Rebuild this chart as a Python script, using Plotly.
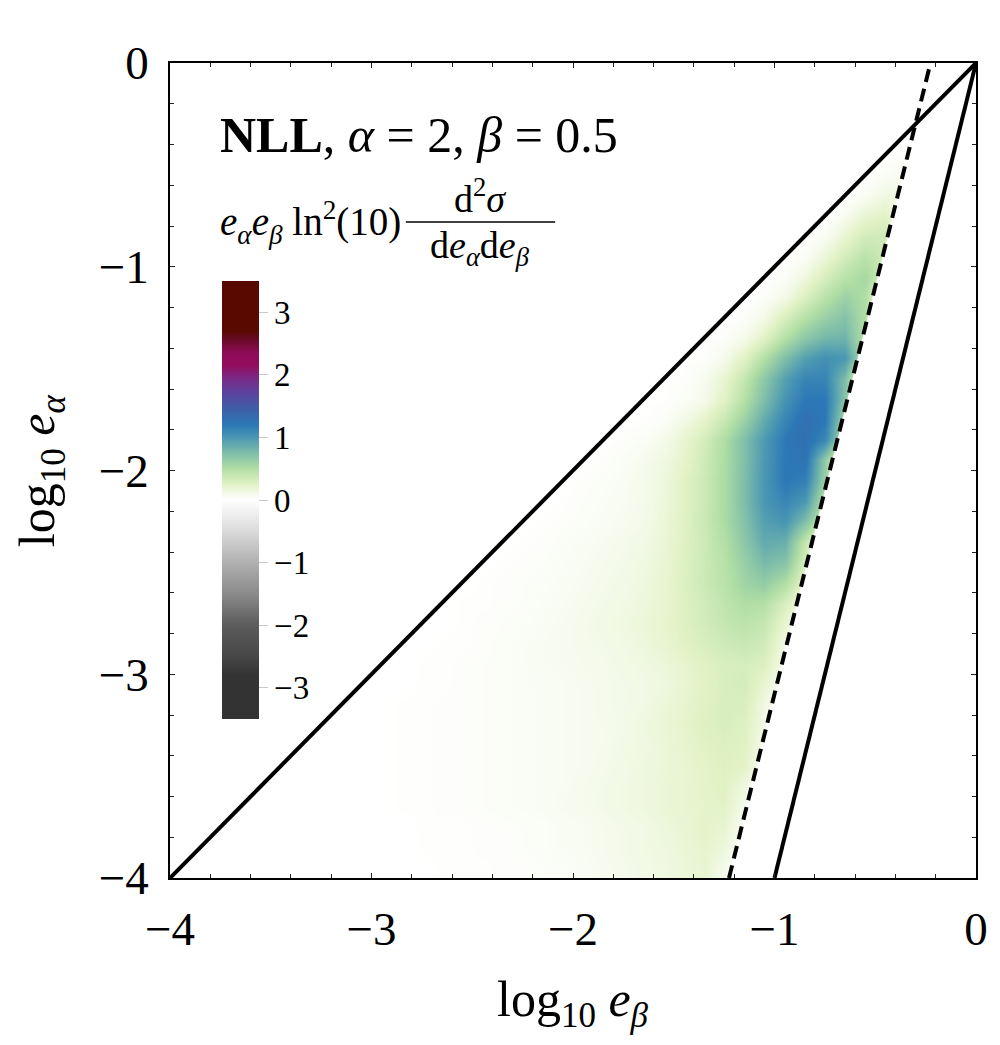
import numpy as np
import plotly.graph_objects as go

# cell centres, step 0.1 in log10 e_beta (x) and log10 e_alpha (y)
x_centres = np.round(np.arange(-3.95, 0, 0.1), 2)
y_centres = np.round(np.arange(-3.95, 0, 0.1), 2)

# one row per y centre (bottom to top); each row starts at the cell on the diagonal
# and runs to the dashed line; everything else is zero
dens_rows = [
    [0, 0, 0, 0, 0, 0, 0, 0, 0, 0, 0, 0, 0.0, 0.01, 0.01, 0.01, 0.02, 0.02, 0.03, 0.04, 0.06, 0.08, 0.1, 0.12, 0.14, 0.17, 0.2, 0.1],
    [0, 0, 0, 0, 0, 0, 0, 0, 0, 0, 0, 0.01, 0.01, 0.01, 0.02, 0.02, 0.03, 0.04, 0.06, 0.07, 0.09, 0.11, 0.13, 0.15, 0.18, 0.22, 0.16, 0.04],
    [0, 0, 0, 0, 0, 0, 0, 0, 0, 0, 0.01, 0.01, 0.01, 0.02, 0.02, 0.03, 0.04, 0.06, 0.07, 0.09, 0.11, 0.13, 0.16, 0.19, 0.23, 0.2, 0.06],
    [0, 0, 0, 0, 0, 0, 0, 0, 0.01, 0.01, 0.02, 0.02, 0.03, 0.04, 0.05, 0.06, 0.08, 0.09, 0.11, 0.13, 0.15, 0.18, 0.2, 0.22, 0.24, 0.1],
    [0, 0, 0, 0, 0, 0, 0, 0.01, 0.01, 0.02, 0.02, 0.03, 0.04, 0.05, 0.06, 0.07, 0.09, 0.11, 0.13, 0.15, 0.18, 0.2, 0.23, 0.26, 0.15],
    [0, 0, 0, 0, 0, 0, 0.01, 0.01, 0.02, 0.02, 0.03, 0.04, 0.05, 0.06, 0.07, 0.08, 0.1, 0.12, 0.15, 0.17, 0.2, 0.23, 0.27, 0.24, 0.07],
    [0, 0, 0, 0, 0, 0.01, 0.01, 0.02, 0.02, 0.03, 0.04, 0.05, 0.06, 0.07, 0.08, 0.09, 0.12, 0.14, 0.17, 0.21, 0.25, 0.28, 0.26, 0.1],
    [0, 0, 0, 0, 0.01, 0.01, 0.02, 0.02, 0.03, 0.04, 0.05, 0.06, 0.07, 0.08, 0.09, 0.11, 0.15, 0.18, 0.22, 0.27, 0.3, 0.27, 0.12],
    [0, 0, 0, 0.01, 0.01, 0.02, 0.02, 0.03, 0.04, 0.05, 0.06, 0.07, 0.08, 0.1, 0.11, 0.13, 0.17, 0.21, 0.26, 0.3, 0.3, 0.14],
    [0, 0, 0, 0.01, 0.01, 0.02, 0.03, 0.04, 0.05, 0.06, 0.07, 0.08, 0.1, 0.11, 0.13, 0.15, 0.2, 0.25, 0.3, 0.32, 0.2, 0.06],
    [0, 0, 0.01, 0.01, 0.02, 0.03, 0.04, 0.05, 0.07, 0.08, 0.09, 0.1, 0.12, 0.14, 0.17, 0.21, 0.26, 0.3, 0.31, 0.28, 0.1],
    [0, 0, 0.01, 0.01, 0.02, 0.04, 0.05, 0.07, 0.08, 0.1, 0.11, 0.13, 0.16, 0.2, 0.25, 0.3, 0.35, 0.38, 0.34, 0.12],
    [0, 0, 0.01, 0.02, 0.03, 0.04, 0.06, 0.08, 0.1, 0.12, 0.14, 0.17, 0.21, 0.27, 0.33, 0.4, 0.44, 0.4, 0.2],
    [0, 0.01, 0.01, 0.02, 0.03, 0.05, 0.07, 0.09, 0.11, 0.13, 0.16, 0.2, 0.27, 0.34, 0.42, 0.5, 0.48, 0.3, 0.1],
    [0, 0.01, 0.02, 0.03, 0.04, 0.06, 0.08, 0.1, 0.12, 0.15, 0.2, 0.28, 0.36, 0.45, 0.58, 0.65, 0.5, 0.2],
    [0, 0.01, 0.02, 0.03, 0.05, 0.07, 0.09, 0.11, 0.14, 0.19, 0.27, 0.36, 0.46, 0.62, 0.78, 0.72, 0.3],
    [0, 0.01, 0.02, 0.04, 0.06, 0.08, 0.1, 0.13, 0.18, 0.26, 0.36, 0.48, 0.68, 0.88, 0.85, 0.4],
    [0, 0.01, 0.02, 0.04, 0.06, 0.08, 0.11, 0.17, 0.26, 0.37, 0.52, 0.72, 0.95, 1.02, 0.75, 0.35],
    [0, 0.01, 0.03, 0.05, 0.07, 0.1, 0.16, 0.25, 0.36, 0.52, 0.75, 1.0, 1.12, 1.0, 0.45],
    [0, 0.02, 0.04, 0.06, 0.1, 0.16, 0.25, 0.36, 0.52, 0.75, 1.0, 1.2, 1.15, 0.6],
    [0, 0.02, 0.05, 0.09, 0.14, 0.22, 0.34, 0.51, 0.74, 0.99, 1.2, 1.25, 0.65],
    [0, 0.02, 0.05, 0.1, 0.2, 0.32, 0.5, 0.74, 0.98, 1.2, 1.28, 1.1, 0.45],
    [0, 0.01, 0.04, 0.12, 0.22, 0.38, 0.6, 0.88, 1.12, 1.28, 1.2, 0.55],
    [0, 0.01, 0.04, 0.1, 0.25, 0.47, 0.75, 1.02, 1.2, 1.2, 0.7],
    [0, 0.02, 0.08, 0.2, 0.4, 0.68, 0.95, 1.12, 1.12, 0.75],
    [0, 0.02, 0.1, 0.25, 0.48, 0.75, 0.95, 1.05, 1.0, 0.45],
    [0, 0.03, 0.1, 0.25, 0.48, 0.68, 0.8, 0.82, 0.45],
    [0, 0.03, 0.12, 0.3, 0.48, 0.62, 0.72, 0.5],
    [0, 0.03, 0.12, 0.28, 0.45, 0.6, 0.5],
    [0, 0.04, 0.15, 0.3, 0.45, 0.55, 0.3],
    [0, 0.05, 0.18, 0.33, 0.45, 0.35],
    [0, 0.06, 0.2, 0.33, 0.35],
    [0, 0.08, 0.2, 0.25],
    [0, 0.05, 0.14, 0.12],
    [0, 0.05, 0.08],
    [0, 0.02],
]

# boundary lines y = m*x + b
line_slope = [1, 4, 4]
line_icpt = [0, 0, 0.903]
line_dash = ["solid", "solid", "dash"]

cbar_ticks = [-3, -2, -1, 0, 1, 2, 3]
zmin, zmax = -3.5, 3.5

cscale = [
    [0.0, "#333333"], [0.1, "#333333"], [0.1429, "#474747"], [0.2143, "#5c5c5c"],
    [0.2857, "#8a8a8a"], [0.3571, "#b0b0b0"], [0.4286, "#dadada"], [0.5, "#ffffff"],
    [0.5143, "#f5faeb"], [0.5357, "#e2f2c5"], [0.5714, "#b0dea4"], [0.6071, "#7fbea9"],
    [0.6429, "#4a97b3"], [0.6714, "#2c78b6"], [0.7071, "#3f5fa8"], [0.7429, "#5a43a0"],
    [0.7786, "#7a2a84"], [0.8071, "#930c5e"], [0.8357, "#8e0c58"], [0.8643, "#6a0a2a"],
    [0.8857, "#580a00"], [1.0, "#580a00"],
]

z = np.zeros((len(y_centres), len(x_centres)))
for i, r in enumerate(dens_rows):
    z[i, i:i + len(r)] = r

FONT = "Liberation Serif"

fig = go.Figure()
fig.add_trace(go.Heatmap(
    x=x_centres, y=y_centres, z=z, zmin=zmin, zmax=zmax, colorscale=cscale,
    zsmooth="best",
    colorbar=dict(
        x=0.0642, xanchor="left", xref="paper", xpad=0, y=0.4638, yanchor="middle",
        ypad=0, thickness=37, len=0.5374, lenmode="fraction", outlinewidth=0,
        tickvals=cbar_ticks, ticks="outside", ticklen=9, tickcolor="#c8c8c8",
        tickfont=dict(family=FONT, size=33, color="black"),
    ),
))

# white out the area past the dashed line
m, b = line_slope[2], line_icpt[2]
fig.add_trace(go.Scatter(
    x=[(-4 - b) / m, (0 - b) / m, 0, 0], y=[-4, 0, 0, -4], fill="toself",
    fillcolor="white", line=dict(width=0), mode="lines", hoverinfo="skip",
    showlegend=False,
))

for m, b, d in zip(line_slope, line_icpt, line_dash):
    fig.add_trace(go.Scatter(
        x=[(-4 - b) / m, (0 - b) / m], y=[-4, 0], mode="lines",
        line=dict(color="black", width=4, dash="13px,7px" if d == "dash" else "solid"),
        hoverinfo="skip", showlegend=False, cliponaxis=True,
    ))

axis_common = dict(
    range=[-4, 0], dtick=1, tick0=0, ticks="inside", ticklen=5, tickwidth=1.3,
    tickcolor="#222222", showline=True, linecolor="black", linewidth=1.5,
    mirror="allticks", showgrid=False, zeroline=False,
    tickfont=dict(family=FONT, size=47, color="black"),
    minor=dict(ticks="inside", dtick=0.2, ticklen=4, tickwidth=1, tickcolor="#222222"),
)

fig.update_layout(
    # page body adds 8px, so the figure is 8px smaller than the window
    width=992, height=1037,
    margin=dict(l=162, r=20, t=55, b=167),
    paper_bgcolor="white", plot_bgcolor="white",
    xaxis=dict(axis_common, ticklabelstandoff=8, linewidth=2.2),
    yaxis=dict(axis_common, ticklabelstandoff=10),
    showlegend=False,
    annotations=[
        dict(text="<b>NLL</b>, <i>α</i> = 2, <i>β</i> = 0.5", xref="paper", yref="paper",
             x=0.059, y=0.912, xanchor="left", yanchor="middle", showarrow=False,
             font=dict(family=FONT, size=50, color="black")),
        dict(text="<i>e</i><sub><i>α</i></sub><i>e</i><sub><i>β</i></sub> ln<sup>2</sup>(10)",
             xref="paper", yref="paper", x=0.059, y=0.8049, xanchor="left",
             yanchor="middle", showarrow=False, font=dict(family=FONT, size=39, color="black")),
        dict(text="d<sup>2</sup><i>σ</i>", xref="paper", yref="paper", x=0.385, y=0.8049,
             xanchor="center", yanchor="bottom", showarrow=False,
             font=dict(family=FONT, size=38, color="black")),
        dict(text="d<i>e</i><sub><i>α</i></sub>d<i>e</i><sub><i>β</i></sub>", xref="paper",
             yref="paper", x=0.385, y=0.8049, xanchor="center", yanchor="top",
             showarrow=False, font=dict(family=FONT, size=38, color="black")),
        dict(text="log<sub>10</sub> <i>e</i><sub><i>β</i></sub>", xref="paper", yref="paper",
             x=0.5, y=-0.1534, xanchor="center", yanchor="middle", showarrow=False,
             font=dict(family=FONT, size=50, color="black")),
        dict(text="log<sub>10</sub> <i>e</i><sub><i>α</i></sub>", xref="paper", yref="paper",
             x=-0.1605, y=0.5, xanchor="center", yanchor="middle", showarrow=False,
             textangle=-90, font=dict(family=FONT, size=50, color="black")),
    ],
    shapes=[
        dict(type="line", xref="paper", yref="paper", x0=0.2926, x1=0.4778,
             y0=0.8049, y1=0.8049, line=dict(color="black", width=1.5)),
    ],
)

fig.write_html("out.html")
